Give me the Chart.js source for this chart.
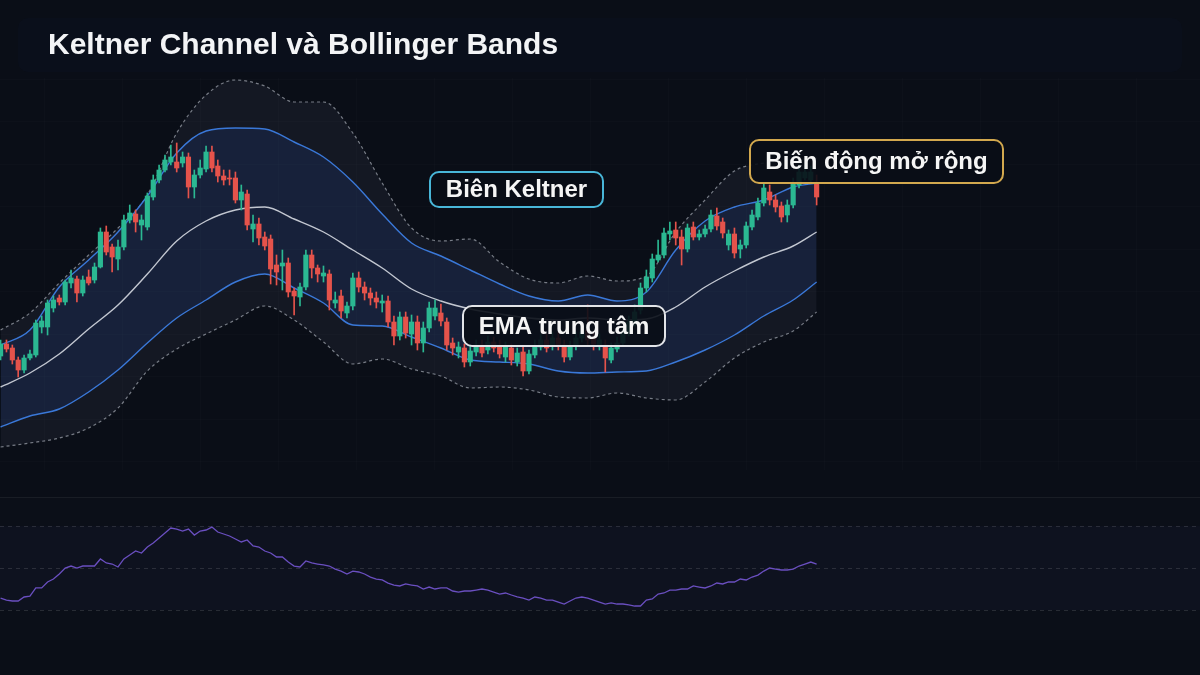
<!DOCTYPE html>
<html><head><meta charset="utf-8">
<script src="https://cdn.jsdelivr.net/npm/chart.js@4.4.1/dist/chart.umd.min.js"></script>
<style>
html,body{margin:0;padding:0;background:#0a0e17;width:1200px;height:675px;overflow:hidden}
canvas{display:block}
</style></head><body>
<canvas id="c" width="1200" height="675"></canvas>
<script>
const titleText = 'Keltner Channel và Bollinger Bands';
const noteKeltner = 'Biên Keltner';
const noteEma = 'EMA trung tâm';
const noteVol = 'Biến động mở rộng';

const openP = [94.4,95.6,95.2,94.0,93.0,94.2,94.5,97.3,97.3,99.2,
100.2,99.8,101.7,102.1,100.7,102.3,102.0,103.3,106.8,105.3,
104.1,105.3,108.0,108.6,107.5,107.3,110.3,112.0,113.0,113.8,
113.8,113.7,114.3,111.3,112.5,113.1,114.8,113.4,112.4,112.2,
112.2,110.0,110.6,107.1,107.6,106.3,106.1,103.5,103.4,103.7,
100.9,100.3,101.3,104.5,103.2,102.4,102.6,99.7,100.4,98.7,
99.4,102.2,101.3,100.7,100.2,99.7,99.9,97.8,96.4,98.3,
96.6,97.8,95.7,97.2,98.4,98.7,97.8,95.7,94.8,95.2,
93.8,94.8,95.5,95.0,95.8,95.4,94.3,95.2,93.8,94.8,
92.9,94.5,95.3,96.0,95.4,96.2,95.5,94.3,95.4,96.2,
97.0,96.2,95.4,95.5,94.0,95.1,95.7,96.8,97.8,99.0,
101.2,102.2,104.0,104.5,106.6,107.0,106.3,105.1,107.3,106.3,
106.6,107.1,108.4,107.8,105.5,106.6,105.1,105.5,107.3,108.3,
109.7,110.8,110.0,109.4,108.5,109.5,111.5,112.2,112.0,111.7];
const highP = [96.0,96.0,95.5,94.3,94.5,95.0,98.0,98.4,100.0,100.4,
100.5,102.0,103.0,102.4,102.4,103.0,103.7,107.2,107.4,105.6,
106.0,108.5,109.5,109.0,108.5,110.7,112.5,113.5,114.5,115.5,
115.7,114.8,114.7,113.0,114.0,115.4,115.4,114.0,113.0,113.0,
112.8,111.5,111.0,108.5,108.2,106.8,106.5,104.5,105.0,104.2,
101.2,101.7,105.0,105.0,103.5,103.4,103.0,100.8,101.0,99.8,
102.7,102.8,101.8,101.2,100.8,100.5,100.4,98.4,98.8,98.8,
98.5,98.4,97.8,99.8,100.0,99.6,98.2,96.2,95.8,95.6,
95.4,96.0,96.0,96.4,96.3,96.0,95.8,95.6,95.2,95.3,
95.0,96.0,96.6,96.6,96.8,96.8,96.0,95.9,96.8,97.5,
99.5,96.8,96.6,96.0,95.7,96.3,97.4,98.4,99.5,101.7,
103.0,104.6,106.0,107.2,107.8,107.8,107.0,107.6,107.8,107.0,
107.5,109.0,109.2,108.2,107.0,107.2,106.0,107.8,109.0,110.2,
111.7,111.5,110.5,109.8,110.0,112.2,113.5,113.5,113.4,112.5];
const lowP = [94.0,94.8,93.6,92.3,92.7,94.0,94.3,96.7,96.5,98.8,
99.5,99.5,101.2,99.8,100.4,101.5,101.7,103.2,104.5,102.8,
103.0,105.0,107.7,106.8,106.0,107.0,110.0,111.7,112.8,113.5,
112.8,113.3,110.2,110.2,112.2,112.8,112.8,111.8,111.5,111.5,
109.7,109.0,107.0,105.8,105.5,105.0,101.6,101.5,101.0,100.3,
98.5,99.4,101.0,102.2,101.8,101.8,99.0,99.2,98.2,98.2,
99.0,100.8,100.0,99.5,99.2,98.8,97.3,95.5,96.0,96.2,
95.5,95.0,94.8,96.8,98.0,97.4,95.0,94.5,94.2,93.3,
93.4,94.4,94.3,94.6,94.8,94.2,93.8,93.5,93.4,92.4,
92.6,94.2,95.0,94.8,95.0,95.0,93.8,94.0,95.0,95.8,
95.5,95.0,95.0,92.8,93.7,94.8,95.4,96.4,97.4,98.6,
100.8,101.8,103.8,104.2,106.0,105.5,103.5,104.8,106.0,106.0,
106.3,106.8,107.0,106.2,105.0,104.2,104.2,105.2,107.0,108.0,
109.4,109.5,108.8,107.8,107.8,109.2,111.2,112.0,111.7,109.5];
const closeP = [95.6,95.1,94.0,93.0,94.2,94.6,97.7,97.9,99.7,100.0,
99.8,101.8,102.2,100.7,102.0,101.7,103.3,106.8,104.8,104.3,
105.3,108.0,108.7,107.8,108.0,110.4,112.0,113.0,114.0,114.3,
113.2,114.3,111.3,112.5,113.2,114.8,113.2,112.4,112.0,112.1,
110.0,110.8,107.5,107.6,106.2,105.4,103.1,102.8,103.7,100.8,
100.4,101.3,104.5,103.2,102.6,102.7,100.0,100.0,98.9,99.4,
102.2,101.3,100.7,100.2,99.8,99.9,97.8,96.4,98.3,96.7,
97.8,95.7,97.2,99.2,99.2,97.9,95.5,95.2,95.3,93.8,
94.9,95.5,94.7,95.8,95.2,94.6,95.3,94.0,94.7,92.9,
94.6,95.4,96.0,95.2,96.2,95.5,94.3,95.4,96.2,96.8,
96.0,95.6,96.0,94.2,95.2,95.7,96.8,97.8,98.8,101.2,
102.3,104.1,104.5,106.7,106.9,106.2,105.1,107.2,106.3,106.6,
107.1,108.5,107.4,106.7,106.6,104.7,105.5,107.4,108.5,109.7,
111.2,110.0,109.3,108.3,109.5,111.6,112.8,112.8,112.8,110.3];

const bandIdx = [0,5,10,15,20,25,30,35,40,45,50,55,60,65,70,75,80,85,90,95,100,105,110,115,120,125,130,135,139];
const bbUpper = [97.0,98.7,101.7,104.5,107.2,110.5,116.7,120.5,122.0,121.4,119.8,119.8,116.7,111.7,107.2,105.9,106.1,103.8,102.1,101.7,102.4,101.9,102.4,106.8,110.0,112.9,113.7,114.0,114.2];
const bbLower = [85.3,85.7,86.2,87.2,89.2,92.9,95.1,96.6,98.0,99.4,98.0,95.8,93.6,94.1,93.1,92.4,91.2,91.3,91.0,90.3,90.2,90.7,90.2,90.0,91.8,94.2,95.8,96.9,98.8];
const kcUpper = [95.5,97.0,101.3,104.0,106.8,110.4,114.7,116.9,117.2,117.1,115.8,114.3,111.8,108.6,105.7,104.4,103.0,101.6,100.4,99.9,100.5,99.9,100.8,105.0,107.9,109.3,110.0,111.3,111.7];
const emaMid = [91.3,92.7,94.6,97.1,99.5,102.6,105.9,107.9,109.0,109.3,108.1,106.8,105.0,103.2,101.1,99.9,99.1,98.6,98.2,98.0,98.2,98.0,98.1,99.3,101.3,102.9,104.3,105.4,106.8];
const kcLower = [87.3,88.4,89.1,90.8,93.0,95.7,98.2,100.0,101.8,102.6,101.2,99.7,97.5,97.4,96.3,95.2,94.0,93.8,93.6,92.9,92.7,92.8,92.9,93.8,95.0,96.5,98.4,100.0,101.8];

const oscVals = [1.14,0.95,0.86,0.86,1.24,1.33,2.10,2.10,2.67,2.95,
3.43,4.00,4.19,4.00,4.19,4.19,4.19,4.86,4.48,4.38,
4.10,4.86,5.24,5.62,5.43,6.00,6.38,6.86,7.33,7.81,
7.71,7.52,7.71,7.14,7.52,7.62,7.90,7.43,7.24,7.05,
6.76,6.48,6.67,6.10,6.00,5.62,5.43,5.05,5.05,4.57,
4.19,4.10,4.67,4.48,4.38,4.29,4.19,3.90,3.71,3.43,
3.71,3.62,3.43,3.14,2.95,2.86,2.57,2.38,2.29,2.48,
2.38,2.29,2.00,2.19,2.00,2.10,2.10,1.81,1.71,1.81,
1.81,1.90,2.00,1.90,1.71,1.52,1.62,1.43,1.24,1.14,
0.95,1.24,1.14,0.95,0.95,0.76,0.57,0.86,1.14,1.24,
1.14,0.95,0.76,0.57,0.67,0.57,0.57,0.48,0.38,0.38,
0.95,1.05,1.52,1.62,1.90,1.90,2.00,2.00,2.29,2.19,
2.10,2.29,2.57,2.48,2.67,2.67,2.95,2.86,3.14,3.33,
3.71,4.00,3.90,3.81,3.81,3.90,4.19,4.38,4.57,4.38];
const oscLevels = [0, 4, 8];

const UP = '#2bb892', DOWN = '#e5534b';
const pts = arr => bandIdx.map((x, k) => ({x, y: arr[k]}));
const isUp = i => closeP[i] >= openP[i];

function rr(ctx, x, y, w, h, r) {
  ctx.beginPath();
  ctx.moveTo(x + r, y);
  ctx.arcTo(x + w, y, x + w, y + h, r);
  ctx.arcTo(x + w, y + h, x, y + h, r);
  ctx.arcTo(x, y + h, x, y, r);
  ctx.arcTo(x, y, x + w, y, r);
  ctx.closePath();
}

const decor = {
  id: 'decor',
  beforeDraw(chart) {
    const {ctx, width, height} = chart;
    ctx.save();
    ctx.fillStyle = '#0a0e17';
    ctx.fillRect(0, 0, width, height);
    // header band
    ctx.fillStyle = 'rgba(40,70,130,0.035)';
    rr(ctx, 18, 18, 1164, 54, 10); ctx.fill();
    // faint grid
    ctx.strokeStyle = 'rgba(255,255,255,0.016)';
    ctx.lineWidth = 1;
    for (let y = 78.5; y < 470; y += 42.5) {
      ctx.beginPath(); ctx.moveTo(0, Math.round(y) + 0.5); ctx.lineTo(width, Math.round(y) + 0.5); ctx.stroke();
    }
    for (let x = 43.5; x < width; x += 78) {
      ctx.beginPath(); ctx.moveTo(Math.round(x) + 0.5, 78); ctx.lineTo(Math.round(x) + 0.5, 470); ctx.stroke();
    }
    // lower pane
    const y2 = chart.scales.y2;
    const pt = y2.getPixelForValue(oscLevels[2]);
    const pb = y2.getPixelForValue(oscLevels[0]);
    ctx.fillStyle = 'rgba(255,255,255,0.008)';
    ctx.fillRect(0, 497, width, 143);
    ctx.fillStyle = 'rgba(110,100,220,0.035)';
    ctx.fillRect(0, pt, width, pb - pt);
    ctx.strokeStyle = 'rgba(255,255,255,0.06)';
    ctx.beginPath(); ctx.moveTo(0, 497.5); ctx.lineTo(width, 497.5); ctx.stroke();
    ctx.setLineDash([4, 4]);
    ctx.strokeStyle = 'rgba(255,255,255,0.12)';
    oscLevels.forEach(v => {
      const y = Math.round(y2.getPixelForValue(v)) + 0.5;
      ctx.beginPath(); ctx.moveTo(0, y); ctx.lineTo(width, y); ctx.stroke();
    });
    ctx.restore();
  },
  afterDraw(chart) {
    const ctx = chart.ctx;
    ctx.save();
    ctx.fillStyle = '#f3f4f6';
    ctx.font = 'bold 30px "Liberation Sans", Arial, sans-serif';
    ctx.textBaseline = 'middle';
    ctx.textAlign = 'left';
    ctx.fillText(titleText, 48, 46);
    const box = (x, y, w, h, border, text) => {
      rr(ctx, x, y, w, h, 9);
      ctx.fillStyle = 'rgba(9,13,22,0.9)';
      ctx.fill();
      ctx.lineWidth = 2;
      ctx.strokeStyle = border;
      ctx.stroke();
      ctx.fillStyle = '#f5f5f5';
      ctx.font = 'bold 24px "Liberation Sans", Arial, sans-serif';
      ctx.textAlign = 'center';
      ctx.textBaseline = 'middle';
      ctx.fillText(text, x + w / 2, y + h / 2 + 1);
    };
    box(430, 172, 173, 35, '#48b6d8', noteKeltner);
    box(463, 306, 202, 40, '#e2e4e8', noteEma);
    box(750, 140, 253, 43, '#d2a84e', noteVol);
    ctx.restore();
  }
};

const candleIdx = closeP.map((c, i) => i);

new Chart(document.getElementById('c'), {
  type: 'line',
  data: {
    datasets: [
      {type: 'line', data: pts(bbUpper), borderColor: 'rgba(190,195,205,0.6)', borderWidth: 1.2, borderDash: [3, 3], pointRadius: 0, tension: 0.4, cubicInterpolationMode: 'monotone', fill: false, order: 6},
      {type: 'line', data: pts(bbLower), borderColor: 'rgba(190,195,205,0.6)', borderWidth: 1.2, borderDash: [3, 3], pointRadius: 0, tension: 0.4, cubicInterpolationMode: 'monotone', fill: '-1', backgroundColor: 'rgba(150,165,190,0.075)', order: 6},
      {type: 'line', data: pts(kcUpper), borderColor: '#3a78d8', borderWidth: 1.4, pointRadius: 0, tension: 0.4, cubicInterpolationMode: 'monotone', fill: false, order: 5},
      {type: 'line', data: pts(kcLower), borderColor: '#3a78d8', borderWidth: 1.4, pointRadius: 0, tension: 0.4, cubicInterpolationMode: 'monotone', fill: '-1', backgroundColor: 'rgba(40,95,200,0.14)', order: 5},
      {type: 'line', data: pts(emaMid), borderColor: 'rgba(225,228,235,0.85)', borderWidth: 1.4, pointRadius: 0, tension: 0.4, cubicInterpolationMode: 'monotone', fill: false, order: 4},
      {type: 'line', yAxisID: 'y2', data: candleIdx.map(i => ({x: i, y: oscVals[i]})), borderColor: '#6a4fc0', borderWidth: 1.3, pointRadius: 0, tension: 0, fill: false, order: 3},
      {type: 'bar', data: candleIdx.map(i => ({x: i, y: [lowP[i], highP[i]]})), backgroundColor: ctx => isUp(ctx.dataIndex) ? UP : DOWN, barThickness: 1, grouped: false, borderWidth: 0, order: 2},
      {type: 'bar', data: candleIdx.map(i => ({x: i, y: [openP[i], closeP[i]]})), backgroundColor: ctx => isUp(ctx.dataIndex) ? UP : DOWN, barThickness: 4.5, grouped: false, borderWidth: 0, minBarLength: 1, order: 1}
    ]
  },
  options: {
    responsive: false,
    animation: false,
    layout: {padding: 0},
    plugins: {legend: {display: false}, tooltip: {enabled: false}},
    scales: {
      x: {type: 'linear', min: -0.1, max: 204.3, offset: false, display: false},
      y: {min: 62.5, max: 130, display: false},
      y2: {min: -6.19, max: 58.1, display: false}
    }
  },
  plugins: [decor]
});
</script>
</body></html>
